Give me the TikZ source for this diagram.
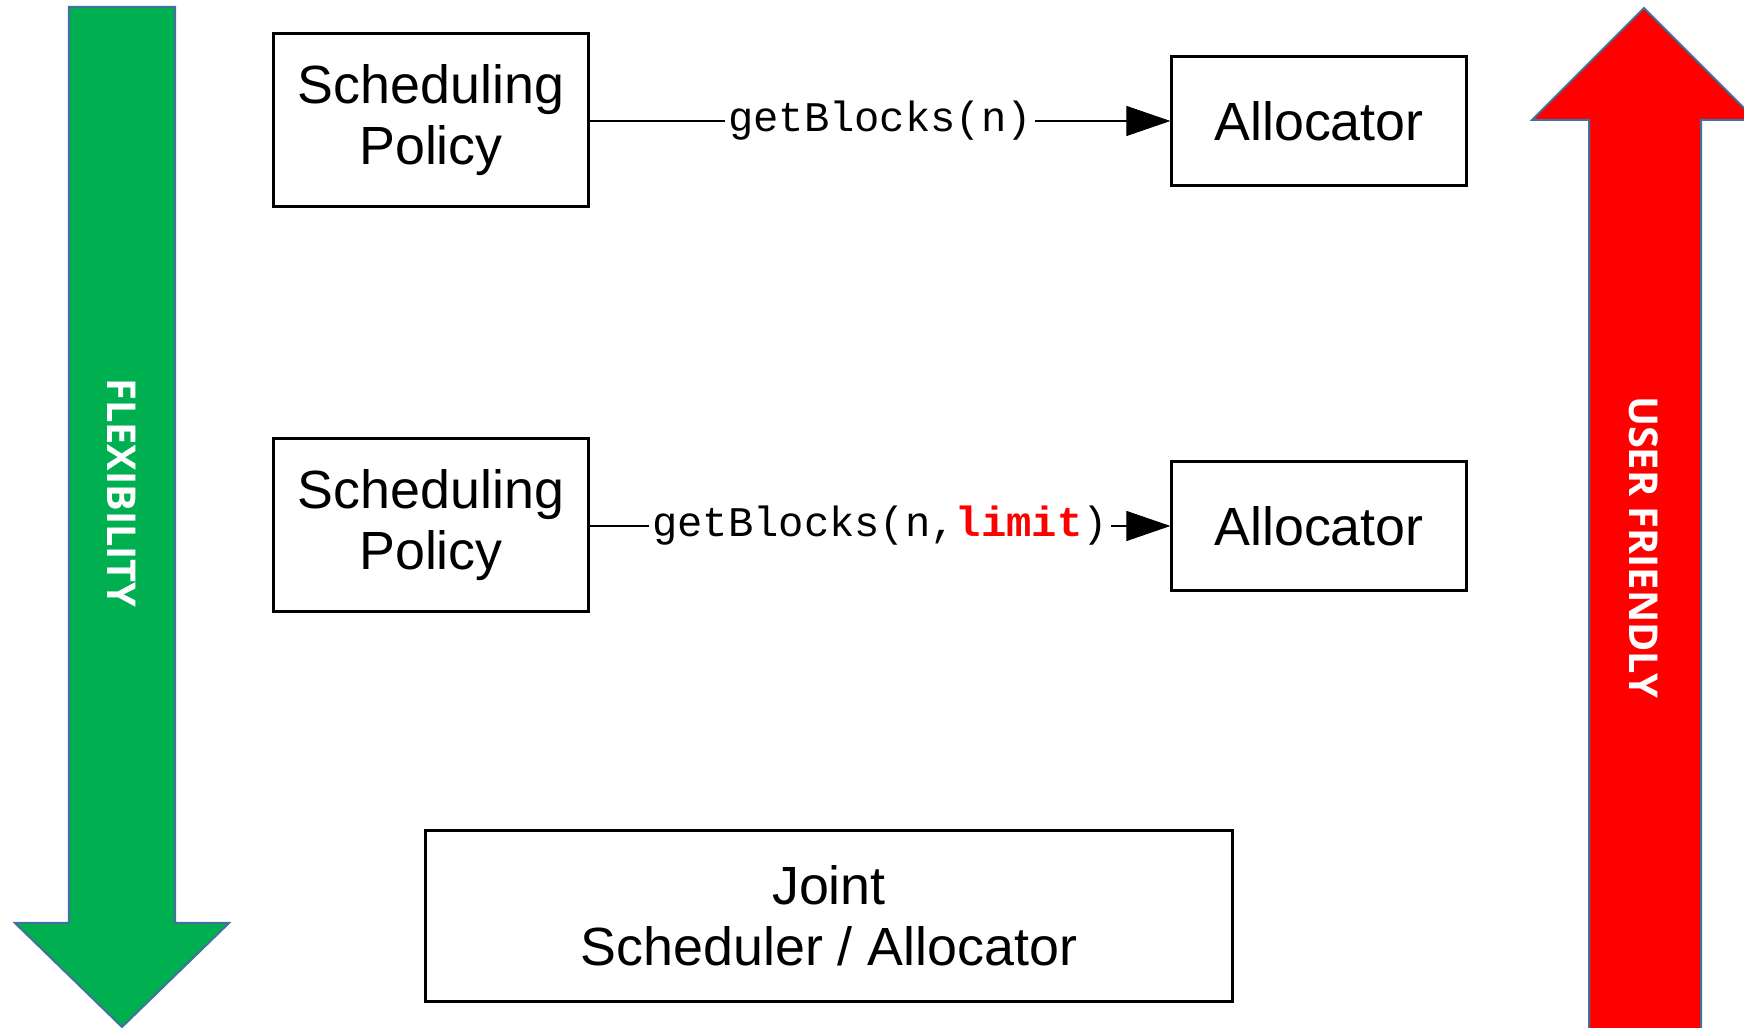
\documentclass[tikz,border=0pt]{standalone}
\usepackage{fontspec}
\setmainfont{Liberation Sans}
\setmonofont{Liberation Mono}
\newfontfamily\arrowfont{Open Sans}
\usepackage{tikz}
\usetikzlibrary{positioning, arrows.meta, calc}
\definecolor{flexgreen}{HTML}{00B050}
\definecolor{edgeblue}{HTML}{41719C}

\begin{document}
\begin{tikzpicture}[x=0.01cm, y=-0.01cm,
    box/.style={draw, line width=0.03cm, align=center, inner sep=0pt,
                font=\fontsize{15.3}{17.4}\selectfont},
    call/.style={-{Triangle[length=0.44cm, width=0.3cm]}, line width=0.3pt},
    calllabel/.style={fill=white, inner sep=1pt, font=\ttfamily\fontsize{12}{14}\selectfont},
    bigarrow/.style={line width=0.02cm, draw=edgeblue},
    arrowtext/.style={text=white, rotate=-90, font=\arrowfont\bfseries\fontsize{11.3}{14}\selectfont}]
    \clip (0,0) rectangle (1744,1028);

    % Flexibility arrow (left)
    \begin{scope}
        \fill[white] (0,0) rectangle (1744,1028);
        \filldraw[bigarrow, fill=flexgreen] (69,7) -- (175,7) -- (175,923) -- (229,923)
            -- (122,1027) -- (15,923) -- (69,923) -- cycle;
        \node[arrowtext] (flex) at (122,493) {FLEXIBILITY};
    \end{scope}

    % User friendly arrow (right)
    \begin{scope}
        \filldraw[bigarrow, fill=red] (1589,1040) -- (1589,120) -- (1532,120) -- (1644,8)
            -- (1756,120) -- (1701,120) -- (1701,1040) -- cycle;
        \node[arrowtext] (friendly) at (1644,547) {USER FRIENDLY};
    \end{scope}

    % Policy calls allocator
    \node[box, minimum width=3.14cm, minimum height=1.72cm] (sp1) at (431,120) {Scheduling\\Policy};
    \node[box, minimum width=2.94cm, minimum height=1.28cm] (alloc1) at (1319,121) {Allocator};
    \draw[call] (sp1.east |- alloc1.west) -- (alloc1.west)
        node[calllabel, midway] {getBlocks(n)};

    % Policy calls allocator with a limit
    \node[box, minimum width=3.14cm, minimum height=1.72cm] (sp2) at (431,525) {Scheduling\\Policy};
    \node[box, minimum width=2.94cm, minimum height=1.28cm] (alloc2) at (1319,526) {Allocator};
    \draw[call] (sp2.east |- alloc2.west) -- (alloc2.west)
        node[calllabel, midway] {getBlocks(n,\textcolor{red}{\bfseries limit})};

    % Joint
    \node[box, minimum width=8.07cm, minimum height=1.71cm] (joint) at (829,916) {Joint\\Scheduler / Allocator};
\end{tikzpicture}
\end{document}
